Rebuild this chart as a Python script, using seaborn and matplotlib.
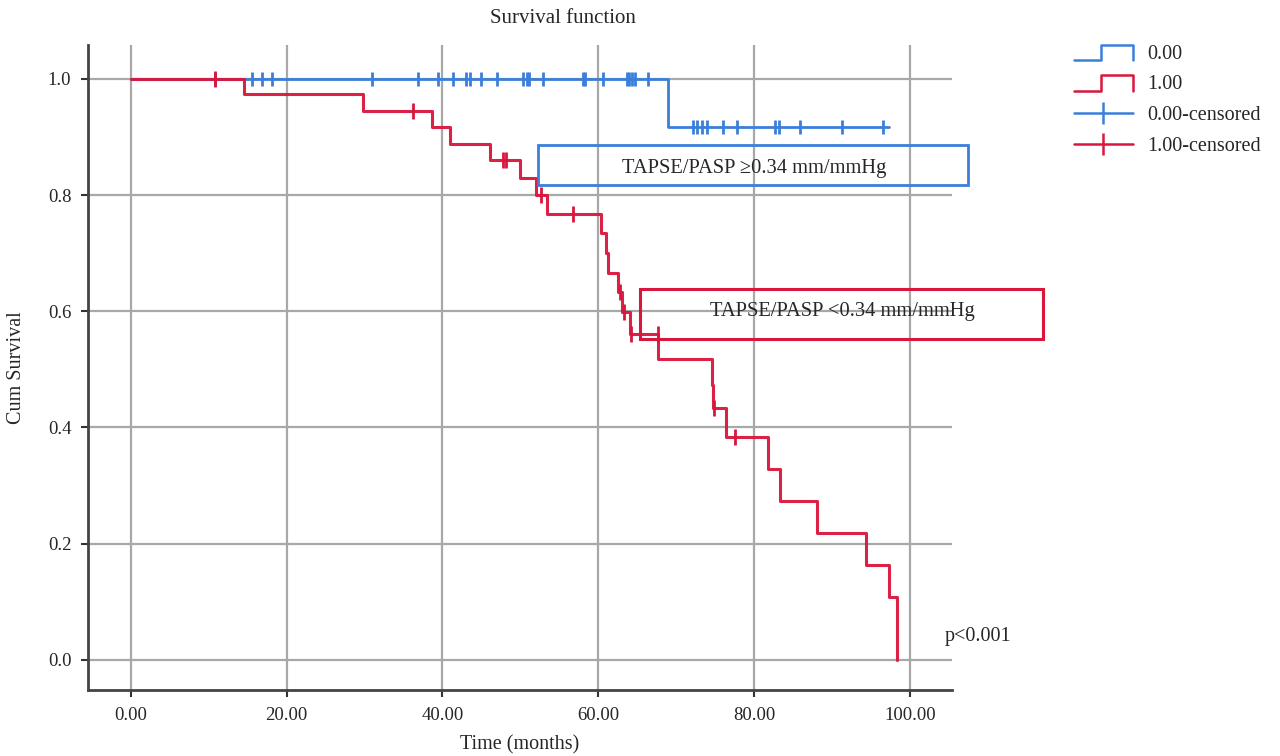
import numpy as np
import pandas as pd
import seaborn as sns
import matplotlib.pyplot as plt
from matplotlib.lines import Line2D
from matplotlib.patches import Rectangle
from matplotlib.legend_handler import HandlerBase

# Kaplan-Meier steps, group 0.00 (TAPSE/PASP >= 0.34)
time_0 = [0.0, 68.9, 97.3]
surv_0 = [1.0, 0.917, 0.917]
cens_0 = [10.8, 15.5, 16.8, 18.1, 30.9, 36.9, 39.4, 41.3, 43.0, 43.5, 45.0, 47.0,
          50.3, 50.8, 51.1, 52.9, 58.0, 58.3, 60.6, 63.7, 63.9, 64.3, 64.7, 66.4,
          72.1, 72.7, 73.3, 73.9, 76.0, 77.8, 82.7, 83.2, 85.9, 91.3, 96.5]

# group 1.00 (TAPSE/PASP < 0.34)
time_1 = [0.0, 14.5, 29.8, 38.6, 41.0, 46.1, 49.9, 52.0, 53.4, 60.3, 61.0, 61.3,
          62.5, 63.1, 64.1, 67.7, 74.6, 74.7, 76.4, 81.8, 83.3, 88.1, 94.4, 97.3, 98.3]
surv_1 = [1.0, 0.974, 0.945, 0.917, 0.888, 0.861, 0.830, 0.800, 0.768, 0.735, 0.700,
          0.666, 0.633, 0.599, 0.561, 0.518, 0.473, 0.434, 0.384, 0.329, 0.274, 0.219,
          0.164, 0.108, 0.0]
cens_1 = [10.8, 36.2, 47.8, 48.1, 52.6, 56.7, 62.8, 63.3, 64.2, 67.6, 74.8, 77.5]

BLUE = "#3b7fd9"
RED = "#d9163c"


def surv_at(times, survs, t):
    idx = np.searchsorted(times, t, side="right") - 1
    return np.asarray(survs)[idx]


sns.set_style("white")
plt.rcParams["font.family"] = ["Liberation Serif", "DejaVu Serif"]

fig = plt.figure(figsize=(12.8, 7.56), dpi=100)
ax = fig.add_axes([0.06875, 0.0873, 0.675, 0.8532])

df0 = pd.DataFrame({"t": time_0, "s": surv_0})
df1 = pd.DataFrame({"t": time_1, "s": surv_1})
sns.lineplot(data=df0, x="t", y="s", drawstyle="steps-post", estimator=None, sort=False,
             color=BLUE, lw=2, ax=ax, zorder=3)
sns.lineplot(data=df1, x="t", y="s", drawstyle="steps-post", estimator=None, sort=False,
             color=RED, lw=2.2, ax=ax, zorder=4, alpha=0.95)

c0 = pd.DataFrame({"t": cens_0, "s": surv_at(time_0, surv_0, cens_0)})
c1 = pd.DataFrame({"t": cens_1, "s": surv_at(time_1, surv_1, cens_1)})
sns.scatterplot(data=c0, x="t", y="s", marker="|", s=110, linewidth=2, color=BLUE, ax=ax, zorder=3)
sns.scatterplot(data=c1, x="t", y="s", marker="|", s=130, linewidth=2, color=RED, ax=ax, zorder=4)

ax.set_xlim(-5.5, 105.4)
ax.set_ylim(-0.052, 1.0585)
ax.set_xticks([0, 20, 40, 60, 80, 100])
ax.set_xticklabels(["0.00", "20.00", "40.00", "60.00", "80.00", "100.00"])
ax.set_yticks([0.0, 0.2, 0.4, 0.6, 0.8, 1.0])
ax.set_yticklabels(["0.0", "0.2", "0.4", "0.6", "0.8", "1.0"])
ax.tick_params(axis="both", labelsize=13.5, direction="out", length=5, width=1.5,
               color="#333333", left=True, bottom=True, pad=7)
ax.grid(True, color="#a8a8a8", lw=1.6)
ax.set_axisbelow(True)
for side in ["top", "right"]:
    ax.spines[side].set_visible(False)
for side in ["left", "bottom"]:
    ax.spines[side].set_color("#444444")
    ax.spines[side].set_linewidth(2)

ax.set_xlabel("Time (months)", fontsize=14.5, labelpad=8)
ax.set_ylabel("Cum Survival", fontsize=14.5, labelpad=16)
fig.text(0.44, 0.976, "Survival function", ha="center", va="center", fontsize=15)

# annotation boxes
ax.add_patch(Rectangle((52.2, 0.818), 55.2, 0.068, fill=False, ec=BLUE, lw=2, clip_on=False, zorder=5))
ax.text(80.0, 0.845, "TAPSE/PASP \u22650.34 mm/mmHg", ha="center", va="center", fontsize=14.8, zorder=6)
ax.add_patch(Rectangle((65.3, 0.552), 51.8, 0.087, fill=False, ec=RED, lw=2.2, clip_on=False, zorder=5))
ax.text(91.3, 0.6, "TAPSE/PASP <0.34 mm/mmHg", ha="center", va="center", fontsize=14.8, zorder=6)
ax.text(104.4, 0.04, "p<0.001", ha="left", va="center", fontsize=14.5)


class StepHandler(HandlerBase):
    def create_artists(self, legend, orig_handle, xdescent, ydescent, width, height, fontsize, trans):
        x = np.array([0, 0.46, 0.46, 1.0, 1.0]) * width - xdescent
        y = np.array([-0.1, -0.1, 1.0, 1.0, -0.1]) * height - ydescent
        line = Line2D(x, y, color=orig_handle.get_color(), lw=1.8)
        line.set_transform(trans)
        return [line]


h0 = Line2D([], [], color=BLUE)
h1 = Line2D([], [], color=RED)
h2 = Line2D([], [], color=BLUE, lw=1.8, marker="|", markersize=16, mew=1.8)
h3 = Line2D([], [], color=RED, lw=1.8, marker="|", markersize=16, mew=1.8)
fig.legend([h0, h1, h2, h3], ["0.00", "1.00", "0.00-censored", "1.00-censored"],
           handler_map={h0: StepHandler(), h1: StepHandler()},
           loc="upper left", bbox_to_anchor=(0.825, 0.965), frameon=False, fontsize=14.5,
           handlelength=2.9, handletextpad=0.75, labelspacing=0.58)

fig.savefig("out.png", dpi=100)
